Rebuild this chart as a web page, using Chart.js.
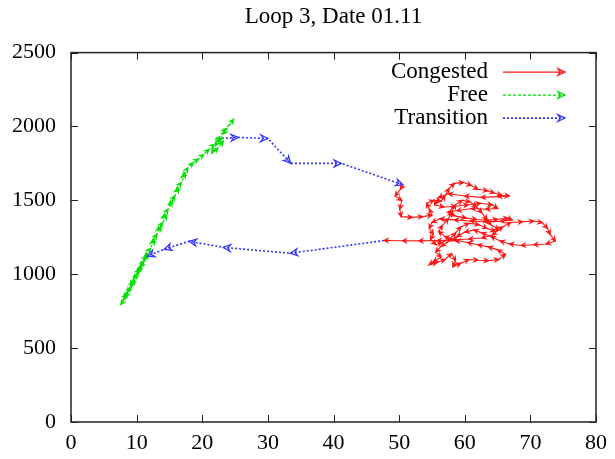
<!DOCTYPE html>
<html>
<head>
    <title>Loop 3, Date 01.11</title>
    <script src="https://cdn.jsdelivr.net/npm/chart.js@4.4.1/dist/chart.umd.min.js"></script>
    <style>
        body { margin: 0; background: #fff; }
        #wrap { width: 615px; height: 459px; }
    </style>
</head>
<body>
    <div id="wrap"><canvas id="chartCanvas"></canvas></div>

    <script>
        // Traiectoria ocupare / debit, pe regimuri de trafic
        const seriesNames = ['Congested', 'Free', 'Transition'];
        const xTicks = [0, 10, 20, 30, 40, 50, 60, 70, 80];
        const yTicks = [0, 500, 1000, 1500, 2000, 2500];

        // Free - urcarea dimineata
        const freeUpOcc  = [7.9, 8.6, 8.2, 9.1, 9.7, 9.2, 10.1, 10.7, 10.2, 11.1, 11.7, 11.2, 12.1, 12.7, 12.2, 13.1, 13.7, 13.1, 14.0, 14.5, 13.9, 14.8, 15.4, 14.9, 15.8, 16.4, 15.9, 16.8, 17.4, 16.9, 17.8, 18.6, 19.4, 20.2, 21.0, 21.8, 22.6, 23.6, 24.8, 23.2, 22.0, 21.5, 22.4, 23.2, 22.3, 23.0];
        const freeUpFlow = [820, 870, 860, 910, 960, 945, 1000, 1050, 1035, 1090, 1140, 1120, 1175, 1230, 1215, 1270, 1320, 1300, 1350, 1400, 1385, 1440, 1490, 1470, 1530, 1580, 1565, 1620, 1680, 1660, 1720, 1755, 1780, 1810, 1845, 1880, 1930, 1985, 2048, 1950, 1870, 1820, 1855, 1900, 1905, 1920];

        // Transition - spre congestie
        const transOutOcc  = [23.0, 25.5, 30.0, 33.5, 41.2, 50.6];
        const transOutFlow = [1920, 1926, 1919, 1750, 1750, 1605];

        // Congested
        const congestedOcc  = [50.6, 50.2, 49.4, 50.4, 50.1, 50.3, 52.0, 53.6, 55.0, 54.6, 54.2, 55.3, 56.4, 57.0, 57.6, 58.4, 59.8, 61.0, 62.0, 63.5, 64.5, 65.6, 66.8, 65.0, 62.5, 60.0, 57.5, 56.0, 55.4, 56.8, 58.6, 60.5, 62.4, 64.2, 65.0, 63.2, 61.0, 58.8, 57.4, 58.5, 60.2, 61.8, 63.5, 65.0, 66.6, 67.2, 65.4, 63.0, 60.8, 58.4, 56.2, 55.0, 54.6, 55.2, 54.8, 55.6, 56.5, 57.8, 58.6, 59.4, 60.6, 62.2, 63.4, 64.6, 65.8, 67.0, 68.8, 70.5, 71.8, 72.6, 73.0, 73.8, 72.4, 70.5, 68.6, 66.8, 65.4, 64.0, 62.6, 61.4, 60.0, 58.8, 57.6, 56.4, 55.6, 56.4, 55.2, 54.6, 55.8, 57.0, 58.0, 58.6, 58.2, 59.4, 60.6, 62.0, 63.6, 65.2, 66.2, 65.0, 63.6, 62.0, 60.4, 58.6, 57.0, 56.0, 56.6, 57.5, 58.0, 58.6, 59.6, 60.8, 61.8, 62.6, 63.4, 64.0, 65.2, 64.2, 62.6, 60.6, 58.2, 55.8, 53.0, 50.5, 47.7];
        const congestedFlow = [1605, 1575, 1530, 1500, 1440, 1390, 1385, 1390, 1400, 1440, 1480, 1500, 1495, 1530, 1580, 1615, 1622, 1600, 1575, 1565, 1550, 1535, 1530, 1525, 1520, 1530, 1545, 1520, 1470, 1455, 1460, 1470, 1480, 1470, 1445, 1440, 1445, 1430, 1420, 1395, 1380, 1370, 1365, 1372, 1380, 1368, 1358, 1355, 1360, 1368, 1375, 1350, 1310, 1270, 1235, 1200, 1215, 1240, 1280, 1320, 1345, 1335, 1310, 1290, 1320, 1350, 1355, 1360, 1350, 1310, 1270, 1225, 1205, 1200, 1195, 1205, 1225, 1255, 1280, 1300, 1285, 1255, 1225, 1190, 1150, 1115, 1085, 1065, 1080, 1100, 1140, 1090, 1050, 1075, 1100, 1095, 1092, 1100, 1135, 1165, 1185, 1200, 1215, 1230, 1255, 1290, 1330, 1375, 1420, 1470, 1500, 1490, 1455, 1415, 1370, 1335, 1300, 1265, 1245, 1238, 1232, 1228, 1226, 1227, 1228];

        // Transition - revenire la free
        const transBackOcc  = [47.7, 33.4, 23.2, 18.0, 14.2, 11.6];
        const transBackFlow = [1228, 1142, 1182, 1223, 1169, 1122];

        // Free - coborarea de seara
        const freeDownOcc  = [11.6, 11.1, 11.5, 10.6, 10.1, 10.5, 9.6, 9.1, 9.5, 8.6, 8.1, 8.5, 7.6];
        const freeDownFlow = [1122, 1100, 1110, 1050, 1010, 1025, 970, 925, 940, 880, 840, 855, 795];

        const styles = {
            Congested:  { color: 'rgb(255,20,20)', dash: [],     width: 1.1, head: 4 },
            Free:       { color: 'rgb(0,225,0)',   dash: [3, 2], width: 1.2, head: 4 },
            Transition: { color: 'rgb(50,50,255)', dash: [2, 2], width: 1.6, head: 8 }
        };

        const serif = 'Liberation Serif, Times New Roman, serif';

        function toPoints(xs, ys) {
            return xs.map((v, i) => ({ x: v, y: ys[i] }));
        }

        function makeSet(name, xs, ys) {
            const s = styles[name];
            return {
                label: name,
                data: toPoints(xs, ys),
                showLine: true,
                borderColor: s.color,
                borderWidth: s.width,
                borderDash: s.dash,
                pointRadius: 0,
                fill: false,
                tension: 0
            };
        }

        // cap de sageata deschis, ca la gnuplot
        function drawHead(ctx, x0, y0, x1, y1, size, color) {
            const dx = x1 - x0, dy = y1 - y0;
            if (Math.hypot(dx, dy) < 0.5) return;
            const a = Math.atan2(dy, dx);
            const sp = 0.45;
            ctx.save();
            ctx.setLineDash([]);
            ctx.strokeStyle = color;
            ctx.lineWidth = 1.2;
            ctx.beginPath();
            ctx.moveTo(x1 - size * Math.cos(a - sp), y1 - size * Math.sin(a - sp));
            ctx.lineTo(x1, y1);
            ctx.lineTo(x1 - size * Math.cos(a + sp), y1 - size * Math.sin(a + sp));
            ctx.lineTo(x1 - size * 0.6 * Math.cos(a), y1 - size * 0.6 * Math.sin(a));
            ctx.closePath();
            ctx.stroke();
            ctx.restore();
        }

        const arrowPlugin = {
            id: 'arrows',
            afterDatasetsDraw(chart) {
                const ctx = chart.ctx;
                ctx.save();
                ctx.beginPath();
                ctx.rect(chart.chartArea.left, chart.chartArea.top, chart.chartArea.width, chart.chartArea.height);
                ctx.clip();
                chart.data.datasets.forEach((ds, i) => {
                    const pts = chart.getDatasetMeta(i).data;
                    const s = styles[ds.label];
                    for (let k = 1; k < pts.length; k++) {
                        drawHead(ctx, pts[k - 1].x, pts[k - 1].y, pts[k].x, pts[k].y, s.head, s.color);
                    }
                });
                ctx.restore();
            }
        };

        // chenar si gradatii spre interior, pe toate laturile
        const framePlugin = {
            id: 'frame',
            afterDraw(chart) {
                const ctx = chart.ctx;
                const a = chart.chartArea;
                const sx = chart.scales.x, sy = chart.scales.y;
                const t = 7;
                ctx.save();
                ctx.strokeStyle = '#222';
                ctx.lineWidth = 1;
                ctx.beginPath();
                sx.ticks.forEach(tk => {
                    const px = Math.round(sx.getPixelForValue(tk.value)) + 0.5;
                    ctx.moveTo(px, a.bottom); ctx.lineTo(px, a.bottom - t);
                    ctx.moveTo(px, a.top); ctx.lineTo(px, a.top + t);
                });
                sy.ticks.forEach(tk => {
                    const py = Math.round(sy.getPixelForValue(tk.value)) + 0.5;
                    ctx.moveTo(a.left, py); ctx.lineTo(a.left + t, py);
                    ctx.moveTo(a.right, py); ctx.lineTo(a.right - t, py);
                });
                ctx.stroke();
                ctx.lineWidth = 1.5;
                ctx.strokeRect(a.left, a.top, a.right - a.left, a.bottom - a.top);
                ctx.restore();
            }
        };

        // legenda in interior, sus-dreapta
        const keyPlugin = {
            id: 'key',
            afterDraw(chart) {
                const ctx = chart.ctx;
                const a = chart.chartArea;
                const textRight = a.right - 108;
                const x0 = a.right - 93, x1 = a.right - 31;
                ctx.save();
                ctx.font = '23px ' + serif;
                ctx.textAlign = 'right';
                ctx.textBaseline = 'middle';
                seriesNames.forEach((name, i) => {
                    const y = a.top + 19 + i * 23;
                    const s = styles[name];
                    ctx.fillStyle = '#000';
                    ctx.fillText(name, textRight, y);
                    ctx.strokeStyle = s.color;
                    ctx.lineWidth = s.width;
                    ctx.setLineDash(s.dash);
                    ctx.beginPath();
                    ctx.moveTo(x0, y + 0.5);
                    ctx.lineTo(x1, y + 0.5);
                    ctx.stroke();
                    drawHead(ctx, x0, y + 0.5, x1, y + 0.5, 8, s.color);
                });
                ctx.restore();
            }
        };

        const ctx = document.getElementById('chartCanvas').getContext('2d');
        const chart = new Chart(ctx, {
            type: 'scatter',
            data: {
                datasets: [
                    makeSet('Free', freeUpOcc, freeUpFlow),
                    makeSet('Free', freeDownOcc, freeDownFlow),
                    makeSet('Congested', congestedOcc, congestedFlow),
                    makeSet('Transition', transOutOcc, transOutFlow),
                    makeSet('Transition', transBackOcc, transBackFlow)
                ]
            },
            options: {
                responsive: true,
                maintainAspectRatio: false,
                animation: false,
                layout: { padding: { left: 0, right: 14, top: 0, bottom: 0 } },
                plugins: {
                    legend: { display: false },
                    tooltip: { enabled: false },
                    title: {
                        display: true,
                        text: 'Loop 3, Date 01.11',
                        color: '#000',
                        fullSize: false,
                        font: { family: serif, size: 23, weight: 'normal' },
                        padding: { top: 3, bottom: 22 }
                    }
                },
                scales: {
                    x: {
                        type: 'linear',
                        min: xTicks[0],
                        max: xTicks[xTicks.length - 1],
                        afterBuildTicks: s => { s.ticks = xTicks.map(v => ({ value: v })); },
                        grid: { display: false, drawTicks: false },
                        border: { display: false },
                        ticks: { color: '#000', padding: 8, maxRotation: 0, font: { family: serif, size: 22 }, callback: v => String(v) },
                        afterFit: s => { s.height = 37; }
                    },
                    y: {
                        type: 'linear',
                        min: yTicks[0],
                        max: yTicks[yTicks.length - 1],
                        afterBuildTicks: s => { s.ticks = yTicks.map(v => ({ value: v })); },
                        grid: { display: false, drawTicks: false },
                        border: { display: false },
                        ticks: { color: '#000', padding: 15, font: { family: serif, size: 22 }, callback: v => String(v) },
                        afterFit: s => { s.width = 71; }
                    }
                }
            },
            plugins: [arrowPlugin, framePlugin, keyPlugin]
        });
    </script>
</body>
</html>
